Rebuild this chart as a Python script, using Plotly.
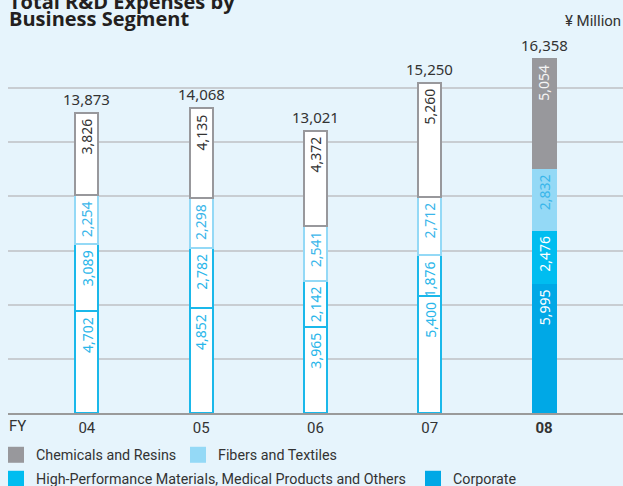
import plotly.graph_objects as go

years = ['04', '05', '06', '07', '08']
corporate = [4702, 4852, 3965, 5400, 5995]
high_perf = [3089, 2782, 2142, 1876, 2476]
fibers = [2254, 2298, 2541, 2712, 2832]
chemicals = [3826, 4135, 4372, 5260, 5054]
totals = [13873, 14068, 13021, 15250, 16358]

BG = '#e6f4fc'
SANS = 'Roboto, Liberation Sans, sans-serif'
NUM = 'Noto Sans, Open Sans, sans-serif'

# (name, values, fill colour, border, text on white bars, text on filled bar)
segments = [
    ('Corporate', corporate, '#00a8e6', '#1ab8ea', '#29b6ea', 'white'),
    ('High-Performance Materials, Medical Products and Others', high_perf, '#00bdf0', '#1ab8ea', '#29b6ea', 'white'),
    ('Fibers and Textiles', fibers, '#94d9f6', '#94d9f6', '#3ab6ea', '#3ab6ea'),
    ('Chemicals and Resins', chemicals, '#98989c', '#98989c', '#333333', '#f4f4f4'),
]

x = list(range(len(years)))
fig = go.Figure()
annotations = []

base = [0] * len(years)
for name, vals, fill, border, txt_white, txt_fill in segments:
    fills = ['white'] * 4 + [fill]
    lines = [border] * 4 + [fill]
    fig.add_trace(go.Bar(
        name=name, x=x, y=vals, width=0.2,
        marker=dict(color=fills, line=dict(color=lines, width=2)),
        showlegend=False, hoverinfo='skip'))
    # segment values, rotated, at top of each segment
    for i, v in enumerate(vals):
        base[i] += v
        annotations.append(dict(
            x=i, y=base[i], text=f'{v:,}', textangle=-90, showarrow=False,
            xanchor='center', yanchor='top', yshift=-4,
            font=dict(family=NUM, size=14, color=txt_fill if i == 4 else txt_white)))

# totals above bars
for i, t in enumerate(totals):
    annotations.append(dict(
        x=i, y=t, text=f'{t:,}', showarrow=False, xanchor='center', yanchor='bottom',
        yshift=2, font=dict(family=NUM, size=15, color='#333333')))

# legend entries, one legend each so they sit like the original
legend_pos = {
    'Chemicals and Resins': ('legend', -0.0195, -0.1108),
    'Fibers and Textiles': ('legend2', 0.2764, -0.1108),
    'High-Performance Materials, Medical Products and Others': ('legend3', -0.0195, -0.1741),
    'Corporate': ('legend4', 0.6585, -0.1741),
}
for name, vals, fill, _, _, _ in reversed(segments):
    lg = legend_pos[name][0]
    fig.add_trace(go.Scatter(
        x=[None], y=[None], mode='markers', name=name, legend=lg,
        marker=dict(symbol='square', size=16, color=fill)))

legend_style = dict(orientation='h', xanchor='left', yanchor='middle',
                    font=dict(family=SANS, size=14.3, color='#333333'),
                    bgcolor='rgba(0,0,0,0)', itemwidth=30)
legends = {}
for name, (lg, lx, ly) in legend_pos.items():
    legends[lg] = dict(legend_style, x=lx, y=ly)

annotations += [
    dict(text='<b>Total R&D Expenses by</b>', xref='paper', yref='paper', x=-0.002, y=1.087,
         xanchor='left', yanchor='middle', showarrow=False,
         font=dict(family='Open Sans', size=20, color='#231f20')),
    dict(text='<b>Business Segment</b>', xref='paper', yref='paper', x=-0.002, y=1.040,
         xanchor='left', yanchor='middle', showarrow=False,
         font=dict(family='Open Sans', size=20, color='#231f20')),
    dict(text='¥ Million', xref='paper', yref='paper', x=1, y=1.034,
         xanchor='right', yanchor='middle', showarrow=False,
         font=dict(family=SANS, size=15, color='#333333')),
    dict(text='FY', xref='paper', yref='paper', x=-0.002, y=-0.034,
         xanchor='left', yanchor='middle', showarrow=False,
         font=dict(family=SANS, size=15, color='#333333')),
]

fig.update_xaxes(
    range=[-0.69, 4.69], tickvals=x,
    ticktext=['04', '05', '06', '07', '<b>08</b>'],
    tickfont=dict(family=SANS, size=15, color='#333333'),
    showline=True, linecolor='#9a9a9a', linewidth=2, showgrid=False, ticks='')
fig.update_yaxes(
    range=[0, 17500], dtick=2500, showticklabels=False,
    showgrid=True, gridcolor='#c8cdd2', gridwidth=2, zeroline=False)

fig.update_layout(
    width=623, height=486,
    margin=dict(l=8, r=0, t=34, b=73, autoexpand=False),
    paper_bgcolor=BG, plot_bgcolor=BG,
    barmode='stack', bargap=0,
    annotations=annotations,
    **legends,
)

# page body has a default 8px margin; drop it so the figure fills the window
fig.write_html('out.html', config={'displayModeBar': False},
               post_script="document.body.style.margin='0';")
